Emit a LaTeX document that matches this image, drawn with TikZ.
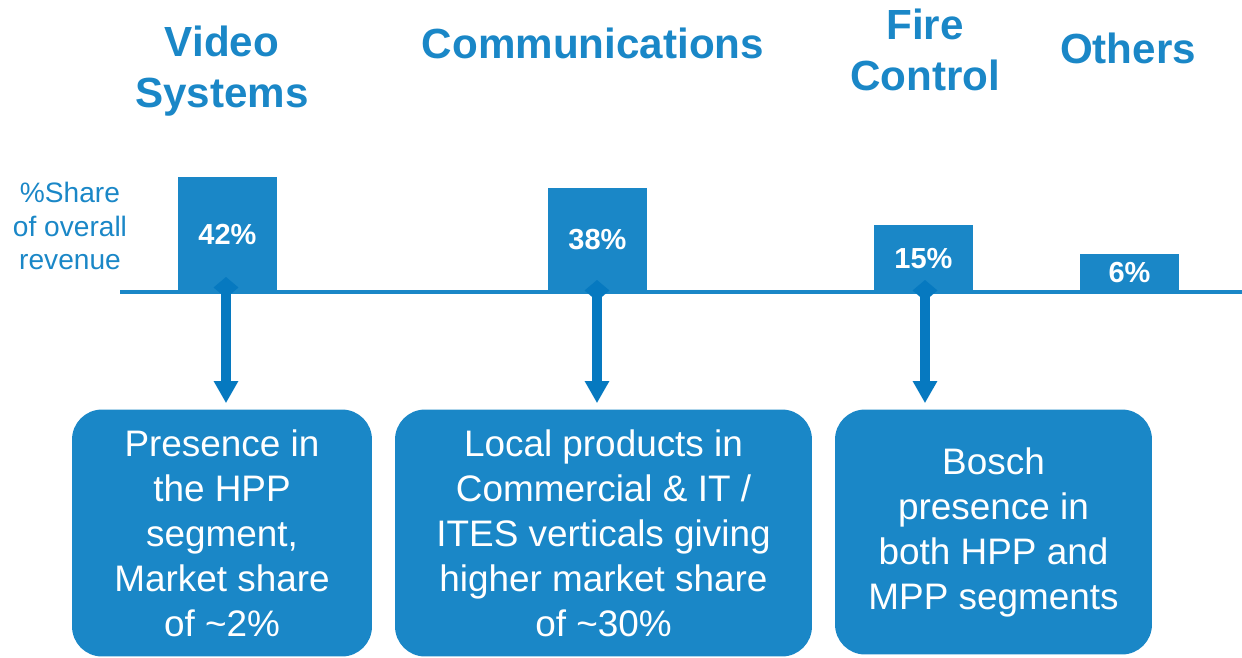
\documentclass[tikz,border=0pt]{standalone}
\usepackage{fontspec}
\setmainfont{Liberation Sans}
\usetikzlibrary{arrows.meta}
\definecolor{barblue}{HTML}{1A87C7}
\definecolor{arrowblue}{HTML}{0679C0}

\begin{document}
\begin{tikzpicture}[x=0.02cm, y=-0.02cm,
    title/.style={text=barblue, align=center, font=\fontsize{24}{29}\selectfont\bfseries},
    bar/.style={rectangle, fill=barblue, text=white, anchor=south, minimum width=1.98cm, inner sep=0pt, font=\fontsize{16.5}{20}\selectfont\bfseries},
    note/.style={rectangle, rounded corners=0.6cm, fill=barblue, text=white, align=center, minimum height=4.94cm, font=\fontsize{21}{25.6}\selectfont},
    pointer/.style={arrowblue, line width=0.2cm, shorten >=0.12cm, {Diamond[width=0.5cm,length=0.42cm]}-{Triangle[width=0.46cm,length=0.44cm]}}]

    \useasboundingbox (0,0) rectangle (1242,657);

    % Segment headings
    \node (video) [title] at (222,71) {Video\\Systems};
    \node (comms) [title] at (593,43) {Communications};
    \node (fire) [title] at (925,50) {Fire\\Control};
    \node (others) [title] at (1128,48) {Others};

    % Axis label
    \node (share) [text=barblue, align=center, font=\fontsize{16}{19.3}\selectfont] at (70,226) {\%Share\\of overall\\revenue};

    % Axis line
    \coordinate (axisL) at (120,292);
    \coordinate (axisR) at (1242,292);
    \draw[barblue, line width=0.08cm] (axisL) -- (axisR);

    % Revenue bars
    \node (bar1) [bar, minimum height=2.3cm] at (227.5,292) {42\%};
    \node (bar2) [bar, minimum height=2.08cm] at (597.5,292) {38\%};
    \node (bar3) [bar, minimum height=1.34cm] at (923.5,292) {15\%};
    \node (bar4) [bar, minimum height=0.76cm] at (1129.5,292) {6\%};

    % Comment boxes
    \node (box1) [note, minimum width=6cm] at (222,533) {Presence in\\the HPP\\segment,\\Market share\\of \textasciitilde2\%};
    \node (box2) [note, minimum width=8.34cm] at (603.5,533) {Local products in\\Commercial \& IT /\\ITES verticals giving\\higher market share\\of \textasciitilde30\%};
    \node (box3) [note, minimum width=6.34cm, minimum height=4.9cm] at (993.5,532) {Bosch\\presence in\\both HPP and\\MPP segments};

    % Arrows from bars to boxes
    \coordinate (tip1) at (226,277);
    \coordinate (tip2) at (597,280);
    \coordinate (tip3) at (925,280);
    \draw[pointer] (tip1) -- (tip1 |- box1.north);
    \draw[pointer] (tip2) -- (tip2 |- box2.north);
    \draw[pointer] (tip3) -- (tip3 |- box3.north);

\end{tikzpicture}
\end{document}
